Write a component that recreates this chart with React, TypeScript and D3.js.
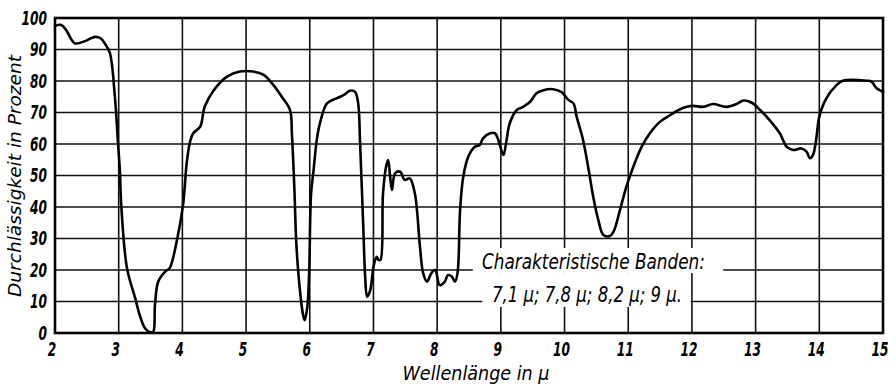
import React from "react";
import * as d3 from "d3";

const wavelength = [
  2.0, 2.1, 2.18, 2.31, 2.45, 2.63, 2.72, 2.78, 2.86, 2.94, 2.99, 3.02, 3.04, 3.13, 3.26, 3.33, 3.41, 3.49, 3.54,
  3.57, 3.62, 3.73, 3.8, 3.91, 4.01, 4.07, 4.12, 4.17, 4.28, 4.35, 4.49, 4.7, 4.9, 5.11, 5.27, 5.43, 5.56, 5.69,
  5.72, 5.76, 5.79, 5.85, 5.9, 5.92, 5.96, 5.99, 6.02, 6.06, 6.11, 6.16, 6.27, 6.42, 6.53, 6.63, 6.71, 6.76, 6.79,
  6.84, 6.87, 6.9, 6.95, 7.0, 7.05, 7.08, 7.11, 7.15, 7.2, 7.23, 7.26, 7.29, 7.34, 7.42, 7.49, 7.57, 7.65, 7.73,
  7.78, 7.84, 7.91, 7.97, 8.04, 8.12, 8.17, 8.23, 8.28, 8.32, 8.36, 8.41, 8.49, 8.59, 8.67, 8.72, 8.83, 8.91, 8.96,
  9.04, 9.09, 9.14, 9.25, 9.35, 9.46, 9.56, 9.67, 9.82, 9.96, 10.06, 10.14, 10.19, 10.29, 10.37, 10.45, 10.53,
  10.61, 10.71, 10.77, 10.87, 10.97, 11.08, 11.21, 11.34, 11.5, 11.66, 11.79, 11.92, 12.02, 12.18, 12.33, 12.54,
  12.7, 12.81, 12.94, 13.07, 13.22, 13.38, 13.49, 13.59, 13.72, 13.8, 13.85, 13.9, 13.95, 14.0, 14.11, 14.27,
  14.37, 14.74, 14.82, 14.9, 15.0,
];
const transmission = [
  97.5, 97.8, 96, 92, 92.5, 94, 93.5, 92, 89, 75, 60, 51, 40.6, 20.6, 11, 5.7, 1.6, 0.3, 0.3,
  9, 16.3, 19.5, 20.6, 29, 40.6, 54.4, 60.7, 63.4, 65.5, 71.8, 77, 81.4, 83, 83, 82, 78.7, 75, 70.8,
  63, 45, 28, 12.7, 5.2, 4.1, 8, 19, 44, 51.7, 61.3, 66.6, 72.9, 74.5, 75.5, 76.9, 76.6, 72.9, 60.3,
  33.7, 17.9, 11.5, 13.6, 21, 24.2, 23.2, 23.2, 44.3, 53, 54.9, 50, 45.4, 50.7, 51.2, 48.6, 49.1, 44.3, 27.4,
  19, 16.3, 19, 20, 15.2, 16.3, 18.4, 17.9, 16.3, 19, 39, 49.6, 56, 59.1, 59.7, 61.8, 63.4, 63.4, 61.3,
  56.5, 61.3, 66.6, 70.8, 71.8, 73.4, 76.1, 77.1, 77.4, 76.4, 74, 72.9, 68.7, 61.3, 52.8, 43.3, 35.9,
  31.1, 30.8, 32.2, 39, 46.4, 52.8, 59.1, 63.4, 67.1, 69.2, 70.8, 71.8, 72.1, 71.8, 72.7, 71.8,
  72.7, 73.8, 73.1, 70.8, 67.6, 63.4, 59.1, 58.1, 58.6, 57.6, 55.5, 56.5, 61.3, 68.7, 74.5, 78.7,
  80.1, 80.1, 79.8, 77.7, 76.6,
];

const xTicks = [2, 3, 4, 5, 6, 7, 8, 9, 10, 11, 12, 13, 14, 15];
const yTicks = [0, 10, 20, 30, 40, 50, 60, 70, 80, 90, 100];

const yTitle = "Durchlässigkeit in Prozent";
const xTitle = "Wellenlänge in μ";
const noteLine1 = "Charakteristische Banden:";
const noteLine2 = "7,1 μ; 7,8 μ; 8,2 μ; 9 μ.";

// areas of the grid blanked out behind the note (data units)
const maskX0 = [8.56, 8.71];
const maskX1 = [12.49, 11.98];
const maskYTop = [27.0, 19.0];
const maskYBot = [19.0, 8.3];

const FONT = "'DejaVu Sans Condensed', 'Liberation Sans Narrow', 'Roboto Condensed', sans-serif";

export default function App() {
  const W = 896, H = 387;
  const x = d3.scaleLinear().domain([2, 15]).range([55, 883]);
  const y = d3.scaleLinear().domain([0, 100]).range([333, 18]);
  const pts = wavelength.map((w, i) => [w, transmission[i]] as [number, number]);
  const line = d3
    .line<[number, number]>()
    .x((d) => x(d[0]))
    .y((d) => y(d[1]))
    .curve(d3.curveCatmullRom.alpha(0.5));

  return (
    <svg width={W} height={H} style={{ position: "absolute", left: 0, top: 0, background: "#fff" }}>
      <rect x={0} y={0} width={W} height={H} fill="#fff" />
      {yTicks.map((t) => (
        <line key={"h" + t} x1={x(2)} x2={x(15)} y1={y(t)} y2={y(t)} stroke="#111" strokeWidth={1.6} />
      ))}
      {xTicks.map((t) => (
        <line key={"v" + t} x1={x(t)} x2={x(t)} y1={y(0)} y2={y(100)} stroke="#111" strokeWidth={1.6} />
      ))}
      {maskX0.map((m, i) => (
        <rect
          key={"m" + i}
          x={x(m)}
          y={y(maskYTop[i])}
          width={x(maskX1[i]) - x(m)}
          height={y(maskYBot[i]) - y(maskYTop[i])}
          fill="#fff"
        />
      ))}
      <rect x={x(2)} y={y(100)} width={x(15) - x(2)} height={y(0) - y(100)} fill="none" stroke="#000" strokeWidth={2.6} />
      <path d={line(pts) || ""} fill="none" stroke="#000" strokeWidth={2.6} strokeLinejoin="round" strokeLinecap="round" />
      {yTicks.map((t) => (
        <text
          key={"yl" + t}
          x={47}
          y={y(t)}
          dy="0.34em"
          textAnchor="end"
          fontFamily={FONT}
          fontStyle="italic"
          fontWeight="bold"
          fontSize={20}
          textLength={String(t).length * 8.5}
          lengthAdjust="spacingAndGlyphs"
          fill="#000"
        >
          {t}
        </text>
      ))}
      {xTicks.map((t) => (
        <text
          key={"xl" + t}
          x={x(t) - 3}
          y={356}
          textAnchor="middle"
          fontFamily={FONT}
          fontStyle="italic"
          fontWeight="bold"
          fontSize={20}
          textLength={String(t).length * 8.5}
          lengthAdjust="spacingAndGlyphs"
          fill="#000"
        >
          {t}
        </text>
      ))}
      <text
        x={476}
        y={380}
        textAnchor="middle"
        fontFamily={FONT}
        fontStyle="italic"
        fontSize={20}
        textLength={147}
        lengthAdjust="spacingAndGlyphs"
        fill="#000"
      >
        {xTitle}
      </text>
      <text
        transform={`translate(21,176) rotate(-90)`}
        textAnchor="middle"
        fontFamily={FONT}
        fontStyle="italic"
        fontSize={17}
        textLength={242}
        lengthAdjust="spacingAndGlyphs"
        fill="#000"
      >
        {yTitle}
      </text>
      <text
        x={482}
        y={269}
        fontFamily={FONT}
        fontStyle="italic"
        fontSize={22}
        textLength={223}
        lengthAdjust="spacingAndGlyphs"
        fill="#000"
      >
        {noteLine1}
      </text>
      <text
        x={492}
        y={302}
        fontFamily={FONT}
        fontStyle="italic"
        fontSize={21}
        textLength={190}
        lengthAdjust="spacingAndGlyphs"
        fill="#000"
      >
        {noteLine2}
      </text>
    </svg>
  );
}
